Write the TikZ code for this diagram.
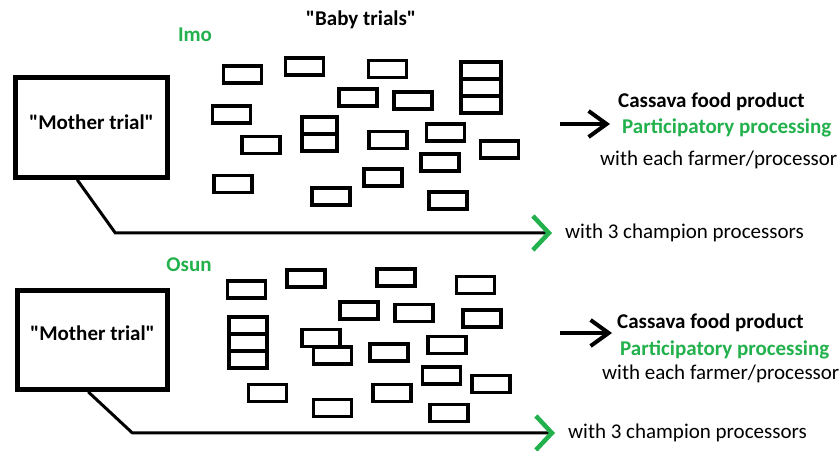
\documentclass[tikz,border=0pt]{standalone}
\usepackage{fontspec}
\setmainfont{Carlito}[Ligatures=TeXOff]
\usetikzlibrary{arrows.meta,positioning}
\definecolor{paintgreen}{RGB}{34,177,76}
\newcommand{\diagfont}{\fontsize{21}{25}\selectfont}
\tikzset{
  baby/.style={draw,line width=3.8pt,fill=white,minimum width=38pt,minimum height=17pt,inner sep=0pt,outer sep=0pt},
  mother/.style={draw,line width=4.6pt,inner sep=0pt},
  bold/.style={font=\diagfont\bfseries},
  site/.style={font=\diagfont\bfseries,text=paintgreen},
  txt/.style={inner sep=0pt,anchor=west,font=\diagfont},
  link/.style={line width=3pt,-{Straight Barb[length=16pt,width=34pt,color=paintgreen,line width=4.5pt]}},
  blackarrow/.style={line width=4pt,-{Straight Barb[length=18pt,width=26pt]}}
}
\begin{document}
\begin{tikzpicture}[x=1pt,y=-1pt]
\useasboundingbox (0,0) rectangle (840,450);

% Imo
\node[site] (imo) at (195,35) {Imo};
\node[bold] (babytitle) at (361,20) {"Baby trials"};
\node[mother,minimum width=152pt,minimum height=100pt,
  label={[bold,yshift=5pt]center:"Mother trial"}] (mom1) at (91.5,127.5) {};
\foreach \x/\y [count=\i] in {242.5/74.5,304.5/66.5,387.5/69,358/97.5,413/100.5,
    231.5/114.5,261/145,388/140,445.5/132.5,499.5/149.5,440/162.5,233/184,
    383/177.5,331/196.5,448/200.5}
  \node[baby] (imobox\i) at (\x,\y) {};
% stacked ones
\node[baby,minimum width=40pt] (imostackA) at (481,70.7) {};
\node[baby,minimum width=40pt,below=0pt of imostackA] (imostackB) {};
\node[baby,minimum width=40pt,below=0pt of imostackB] (imostackC) {};
\node[baby,minimum width=35pt] (imopairA) at (319.5,125.5) {};
\node[baby,minimum width=35pt,below=0pt of imopairA] (imopairB) {};

\node[txt,font=\diagfont\bfseries] (cass1) at (618,102) {Cassava food product};
\node[txt,font=\diagfont\bfseries,text=paintgreen] (part1) at (622,128) {Participatory processing};
\node[txt] (each1) at (600,160) {with each farmer/processor};
\node[txt] (champ1) at (565,233) {with 3 champion processors};
\coordinate (a1) at (560,124);
\draw[blackarrow,shorten >=12pt] (a1) -- (a1 -| part1.west);
\draw[link,shorten >=13pt] ([xshift=64pt]mom1.south west) -- ++(38,53) -- (champ1.west);

% Osun
\node[site] (osun) at (189,265) {Osun};
\node[mother,minimum width=150pt,minimum height=99pt,
  label={[bold,yshift=7pt]center:"Mother trial"}] (mom2) at (92.5,340) {};
\foreach \x/\y [count=\i] in {246.5/289.5,306/278.5,396/277.5,475.5/285,359/310.5,
    414/313,482/318.5,321/338,332.5/355.5,389/352.5,447/345,441.5/375.5,
    491/384,267.5/393,392/393,332.5/408,449/413}
  \node[baby] (osunbox\i) at (\x,\y) {};
\node[baby] (osunstackA) at (248,325.7) {};
\node[baby,below=0pt of osunstackA] (osunstackB) {};
\node[baby,below=0pt of osunstackB] (osunstackC) {};

\node[txt,font=\diagfont\bfseries] (cass2) at (617,323) {Cassava food product};
\node[txt,font=\diagfont\bfseries,text=paintgreen] (part2) at (620,350) {Participatory processing};
\node[txt] (each2) at (602,374) {with each farmer/processor};
\node[txt] (champ2) at (568,433) {with 3 champion processors};
\coordinate (a2) at (560,333);
\draw[blackarrow,shorten >=8pt] (a2) -- (a2 -| part2.west);
\draw[link,shorten >=13pt] ([xshift=73pt]mom2.south west) -- ++(44,41) -- (champ2.west);
\end{tikzpicture}
\end{document}
